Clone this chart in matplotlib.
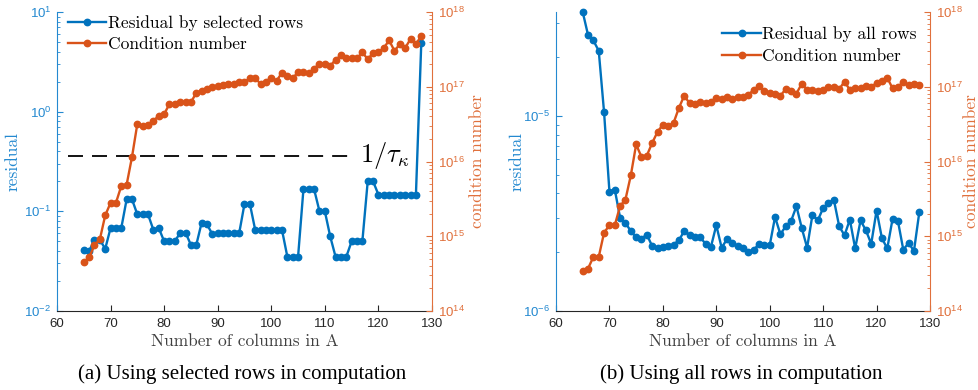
import matplotlib
matplotlib.use("Agg")
import matplotlib.pyplot as plt
from matplotlib.ticker import LogLocator, NullFormatter
from matplotlib.font_manager import FontProperties
from matplotlib.lines import Line2D

plt.rcParams["font.family"] = ["Liberation Sans", "DejaVu Sans"]
plt.rcParams["mathtext.fontset"] = "cm"

# ---------------- data ----------------
columns = list(range(65, 129))

selected_residual = [
    0.041, 0.040, 0.052, 0.052, 0.042, 0.068, 0.068, 0.068, 0.132, 0.132,
    0.093, 0.093, 0.093, 0.065, 0.068, 0.050, 0.050, 0.050, 0.061, 0.061,
    0.046, 0.046, 0.077, 0.074, 0.059, 0.060, 0.060, 0.060, 0.060, 0.060,
    0.119, 0.119, 0.065, 0.065, 0.065, 0.065, 0.065, 0.065, 0.035, 0.035,
    0.035, 0.166, 0.166, 0.166, 0.100, 0.100, 0.056, 0.035, 0.035, 0.035,
    0.050, 0.050, 0.050, 0.200, 0.200, 0.147, 0.147, 0.147, 0.147, 0.147,
    0.147, 0.147, 0.147, 4.93,
]
selected_cond = [
    4.5e14, 5.2e14, 7.6e14, 9.1e14, 1.9e15, 2.8e15, 2.8e15, 4.7e15, 4.9e15, 1.15e16,
    3.2e16, 3.0e16, 3.1e16, 3.5e16, 4.1e16, 4.3e16, 5.9e16, 5.9e16, 6.2e16, 6.3e16,
    6.2e16, 8.3e16, 8.9e16, 9.3e16, 9.8e16, 1.02e17, 1.07e17, 1.10e17, 1.10e17, 1.15e17,
    1.17e17, 1.29e17, 1.29e17, 1.10e17, 1.17e17, 1.32e17, 1.20e17, 1.55e17, 1.41e17, 1.29e17,
    1.58e17, 1.58e17, 1.51e17, 1.74e17, 2.04e17, 2.04e17, 1.91e17, 2.29e17, 2.63e17, 2.40e17,
    2.40e17, 2.40e17, 2.88e17, 2.34e17, 2.82e17, 2.88e17, 3.31e17, 4.17e17, 3.02e17, 3.72e17,
    3.31e17, 4.37e17, 3.72e17, 4.79e17,
]
all_residual = [
    3.40e-5, 2.59e-5, 2.43e-5, 2.15e-5, 1.04e-5, 4.09e-6, 4.19e-6, 3.00e-6, 2.82e-6, 2.57e-6,
    2.38e-6, 2.35e-6, 2.46e-6, 2.15e-6, 2.11e-6, 2.13e-6, 2.15e-6, 2.19e-6, 2.30e-6, 2.57e-6,
    2.44e-6, 2.39e-6, 2.38e-6, 2.21e-6, 2.13e-6, 2.75e-6, 2.11e-6, 2.33e-6, 2.23e-6, 2.15e-6,
    2.11e-6, 2.01e-6, 2.05e-6, 2.21e-6, 2.17e-6, 2.17e-6, 3.03e-6, 2.47e-6, 2.72e-6, 2.89e-6,
    3.44e-6, 2.66e-6, 2.11e-6, 3.11e-6, 2.91e-6, 3.37e-6, 3.57e-6, 3.72e-6, 2.72e-6, 2.44e-6,
    2.94e-6, 2.09e-6, 2.91e-6, 2.59e-6, 2.21e-6, 3.27e-6, 2.36e-6, 2.09e-6, 2.97e-6, 2.89e-6,
    2.06e-6, 2.23e-6, 2.03e-6, 3.21e-6,
]
all_cond = [
    3.4e14, 3.7e14, 5.3e14, 5.3e14, 1.12e15, 1.40e15, 1.40e15, 2.54e15, 3.1e15, 6.5e15,
    1.69e16, 1.15e16, 1.20e16, 1.77e16, 2.49e16, 3.11e16, 2.96e16, 3.28e16, 5.2e16, 7.6e16,
    6.0e16, 5.9e16, 6.2e16, 6.0e16, 6.3e16, 7.1e16, 6.8e16, 7.2e16, 6.8e16, 7.4e16,
    7.2e16, 7.8e16, 9.1e16, 1.02e17, 8.7e16, 8.3e16, 8.1e16, 7.6e16, 9.3e16, 8.7e16,
    8.1e16, 1.10e17, 9.1e16, 9.1e16, 8.7e16, 9.1e16, 9.8e16, 1.0e17, 9.3e16, 1.17e17,
    9.1e16, 9.5e16, 9.5e16, 1.02e17, 1.0e17, 1.12e17, 1.20e17, 1.32e17, 9.5e16, 1.0e17,
    1.15e17, 1.05e17, 1.10e17, 1.05e17,
]
tau_level = 0.36
tau_span = [62, 115]
xticks = [60, 70, 80, 90, 100, 110, 120, 130]

# ---------------- style ----------------
BLUE = "#0072BD"
ORANGE = "#D95319"
BLUE_AX = "#2489d0"
ORANGE_AX = "#e0703c"
DARK = "#262626"
CM = "cmr10"

W, H = 979, 390
fig = plt.figure(figsize=(W / 100, H / 100), dpi=100)


def rect(x0, x1, y0, y1):
    return [x0 / W, 1 - y1 / H, (x1 - x0) / W, (y1 - y0) / H]


def panel(r, res, cond, res_lim, res_label, leg_anchor, leg_loc):
    ax = fig.add_axes(r)
    ax.plot(columns, res, color=BLUE, lw=1.7, marker="o", ms=4.6, clip_on=False, zorder=3)
    ax.set_yscale("log")
    ax.set_ylim(*res_lim)
    ax.set_xlim(60, 130)
    ax.set_xticks(xticks)
    tw = ax.twinx()
    tw.plot(columns, cond, color=ORANGE, lw=1.7, marker="o", ms=4.6, clip_on=False, zorder=3)
    tw.set_yscale("log")
    tw.set_ylim(1e14, 1e18)
    tw.yaxis.set_major_locator(LogLocator(base=10, numticks=10))
    tw.yaxis.set_minor_locator(LogLocator(base=10, subs=range(2, 10), numticks=20))
    tw.yaxis.set_minor_formatter(NullFormatter())
    ax.yaxis.set_minor_locator(LogLocator(base=10, subs=range(2, 10), numticks=20))
    ax.yaxis.set_minor_formatter(NullFormatter())

    for a in (ax, tw):
        a.spines["top"].set_visible(False)
    ax.spines["right"].set_visible(False)
    tw.spines["left"].set_visible(False)
    tw.spines["bottom"].set_visible(False)
    ax.spines["left"].set_color(BLUE_AX)
    tw.spines["right"].set_color(ORANGE_AX)
    ax.spines["bottom"].set_color(DARK)
    for a in (ax, tw):
        for s in a.spines.values():
            s.set_linewidth(0.8)

    ax.tick_params(axis="x", which="both", direction="in", length=4, colors=DARK,
                   labelsize=9.5, pad=5, top=False)
    ax.tick_params(axis="y", which="major", direction="in", length=4, colors=BLUE_AX,
                   labelsize=9.5, pad=4)
    ax.tick_params(axis="y", which="minor", direction="in", length=2.2, colors=BLUE_AX)
    tw.tick_params(axis="y", which="major", direction="in", length=4, colors=ORANGE_AX,
                   labelsize=9.5, pad=4)
    tw.tick_params(axis="y", which="minor", direction="in", length=2.2, colors=ORANGE_AX)

    ax.set_xlabel("Number of columns in A", fontfamily=CM, fontsize=12.5, color="#404040")
    ax.xaxis.set_label_coords(0.5, -0.075)
    ax.set_ylabel("residual", fontfamily=CM, fontsize=12.5, color=BLUE_AX)
    tw.set_ylabel("condition number", fontfamily=CM, fontsize=12.5, color=ORANGE_AX)

    handles = [
        Line2D([], [], color=BLUE, lw=1.7, marker="o", ms=4.6),
        Line2D([], [], color=ORANGE, lw=1.7, marker="o", ms=4.6),
    ]
    tw.legend(handles, [res_label, "Condition number"], loc=leg_loc, bbox_to_anchor=leg_anchor,
              frameon=False, prop=FontProperties(family=CM, size=12.5), handlelength=2.2,
              handletextpad=0.1, labelspacing=0.35, borderpad=0, borderaxespad=0)
    return ax, tw


axL, twL = panel(rect(57, 432, 12, 311), selected_residual, selected_cond, (1e-2, 1e1),
                 "Residual by selected rows", (0.03, 0.99), "upper left")
axL.yaxis.set_label_coords(-0.096, 0.5)
twL.yaxis.set_label_coords(1.101, 0.5)
axL.plot(tau_span, [tau_level, tau_level], color="black", lw=1.3, dashes=(8.3, 5), zorder=2)
axL.text(121.3, tau_level, r"$1/\tau_\kappa$", fontsize=19, ha="center", va="center")

axR, twR = panel(rect(556, 930, 12, 311), all_residual, all_cond, (1e-6, 3.4e-5),
                 "Residual by all rows", (0.965, 0.952), "upper right")
axR.yaxis.set_label_coords(-0.083, 0.5)
twR.yaxis.set_label_coords(1.091, 0.5)

fig.text(242 / W, 1 - 374 / H, "(a) Using selected rows in computation",
         family=["Liberation Serif"], fontsize=15, ha="center", va="center")
fig.text(741.5 / W, 1 - 374 / H, "(b) Using all rows in computation",
         family=["Liberation Serif"], fontsize=15, ha="center", va="center")

fig.savefig("out.png", dpi=100)
